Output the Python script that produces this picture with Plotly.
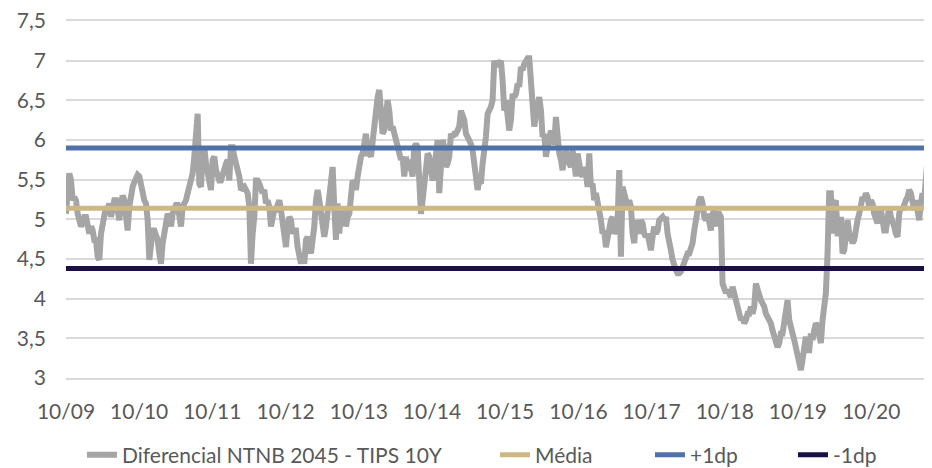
import pandas as pd
import plotly.graph_objects as go

seg_2009 = [5.07, 5.41, 5.58, 5.49, 5.24, 5.28, 5.24, 5.07, 4.99, 4.91, 4.95, 5.03, 5.03, 4.86, 4.82, 4.91, 4.86,
            4.74, 4.74, 4.53, 4.49, 4.82, 4.91, 5.03, 5.16, 5.12, 5.20, 5.03, 5.20, 5.24, 5.24, 5.03, 4.99, 5.20,
            5.30, 5.24, 5.07, 4.86, 5.16, 5.33, 5.41, 5.47, 5.51, 5.56, 5.54, 5.41, 5.33, 5.24, 5.20, 4.99]
seg_2010 = [4.49, 4.82, 4.86, 4.86, 4.82, 4.74, 4.57, 4.44, 4.70, 4.82, 4.99, 5.07, 5.03, 4.91, 5.07, 5.16, 5.18,
            5.18, 5.07, 4.91, 5.16, 5.20, 5.24, 5.33, 5.41, 5.54, 5.58, 5.79, 6.00, 6.33, 5.45, 5.41, 5.83, 5.91,
            5.70, 5.58, 5.41, 5.37, 5.75, 5.79, 5.62, 5.54, 5.49, 5.49, 5.58, 5.66, 5.70, 5.75, 5.49, 5.91, 5.91,
            5.79, 5.70, 5.66, 5.54, 5.37, 5.41, 5.41, 5.37, 5.33, 5.16, 4.44, 4.82, 5.03, 5.49, 5.49]
seg_2012 = [5.45, 5.41, 5.33, 5.37, 5.20, 5.24, 5.16, 4.91, 5.03, 5.12, 5.12, 5.20, 5.24, 5.12, 4.99, 4.78, 4.65,
            4.91, 5.03, 4.99, 4.82, 4.86, 4.86, 4.65, 4.53, 4.44, 4.57, 4.44, 4.74, 4.78, 4.65, 4.57, 4.74, 4.91,
            5.24, 5.37, 5.24, 5.07, 4.99, 4.78, 4.91, 5.07, 5.33, 5.41, 5.66, 5.16, 4.74, 5.20, 4.82, 5.16, 4.91,
            5.16, 4.91, 5.03, 5.07, 5.28, 5.49, 5.45, 5.37, 5.54, 5.75, 5.79, 5.83, 6.00, 6.08, 5.83]
seg_2013 = [5.83, 5.79, 6.00, 6.12, 6.37, 6.54, 6.63, 6.37, 6.08, 6.12, 6.46, 6.50, 6.37, 6.12, 6.17, 6.08, 6.04,
            5.95, 5.83, 5.75, 5.79, 5.54, 5.79, 5.62, 5.75, 5.66, 5.54, 5.91, 5.95, 5.91, 5.49, 5.07, 5.24, 5.41,
            5.54, 5.83, 5.79, 5.66, 5.49, 5.62, 5.95, 6.00, 5.33, 5.83, 6.00, 5.91, 5.66, 5.70, 5.79, 6.08, 6.04,
            6.08, 6.08, 6.12, 6.17, 6.37, 6.33, 6.25, 6.08, 6.04, 6.00, 5.95, 5.87, 5.66, 5.62, 5.37]
seg_2015 = [5.49, 5.45, 5.70, 5.83, 6.04, 6.33, 6.37, 6.42, 6.50, 7.00, 6.92, 7.00, 6.96, 7.00, 6.75, 6.37, 6.50,
            6.29, 6.12, 6.25, 6.58, 6.54, 6.58, 6.71, 6.67, 6.92, 6.88, 6.96, 7.00, 7.03, 7.03, 6.63, 6.37, 6.17,
            6.33, 6.50, 6.54, 6.37, 6.04, 6.08, 5.79, 5.91, 6.00, 6.12, 6.00, 5.95, 6.29, 5.95, 5.83, 5.75, 5.62,
            5.83, 5.87, 5.75, 5.70, 5.66, 5.87, 5.75, 5.54, 5.83, 5.66, 5.58, 5.54, 5.66, 5.58, 5.41]
seg_2016 = [5.83, 5.41, 5.45, 5.24, 5.33, 5.24, 5.07, 4.99, 4.82, 4.86, 4.65, 4.78, 4.91, 4.99, 5.03, 4.82, 4.86,
            4.99, 5.62, 4.53, 5.41, 5.33, 5.24, 5.16, 5.24, 5.16, 4.82, 4.70, 4.99, 4.91, 4.82, 4.99, 4.95, 4.82,
            4.78, 4.82, 4.65, 4.61, 4.78, 4.91, 4.82, 4.86, 4.99, 5.03, 5.03, 4.99, 5.03, 4.82, 4.74, 4.61, 4.49,
            4.40, 4.36, 4.32, 4.32, 4.34, 4.40, 4.44, 4.49, 4.57, 4.57, 4.65, 4.70, 4.86, 4.99, 5.16]
seg_2018 = [5.24, 5.28, 5.20, 5.03, 4.99, 5.07, 4.91, 4.86, 5.07, 5.12, 4.91, 5.07, 5.07, 5.03, 4.19, 4.15, 4.07,
            4.11, 4.07, 4.02, 4.15, 4.07, 3.98, 3.90, 3.77, 3.73, 3.77, 3.69, 3.73, 3.81, 3.81, 3.90, 3.81, 3.90,
            4.19, 4.11, 4.02, 3.98, 3.94, 3.90, 3.81, 3.77, 3.73, 3.69, 3.60, 3.52, 3.44, 3.39, 3.44, 3.56, 3.56,
            3.73, 3.94, 3.98, 3.73, 3.60, 3.56, 3.48, 3.39, 3.27, 3.18, 3.10, 3.23, 3.44, 3.52, 3.35]
seg_2019 = [3.35, 3.56, 3.48, 3.60, 3.69, 3.65, 3.48, 3.44, 3.73, 3.90, 4.07, 4.57, 5.33, 5.33, 4.82, 5.20, 5.24,
            4.82, 4.82, 5.03, 4.57, 4.61, 4.91, 4.99, 4.82, 4.74, 4.70, 4.74, 4.91, 4.99, 5.07, 5.16, 5.28, 5.24,
            5.33, 5.28, 5.16, 5.24, 5.20, 5.07, 5.03, 4.95, 5.07, 5.12, 4.99, 4.86, 4.86, 5.03, 5.16, 5.03, 4.99,
            4.91, 4.82, 4.78, 5.07, 5.16, 5.12, 5.20, 5.24, 5.28, 5.37, 5.33, 5.24, 5.12, 5.24, 5.07, 4.99, 5.20,
            5.33, 5.24, 5.49, 5.70, 6.04]

spread = (seg_2009 + seg_2010 + seg_2012 + seg_2013 + seg_2015
          + seg_2016 + seg_2018 + seg_2019)
first_date = "2009-10-01"
last_date = "2021-07-17"
dates = pd.date_range(first_date, last_date, periods=len(spread))

media = 5.14
plus_1dp = 5.90
minus_1dp = 4.38

y_ticks = [3, 3.5, 4, 4.5, 5, 5.5, 6, 6.5, 7, 7.5]
tick_dates = ["2009-10-01", "2010-10-01", "2011-10-01", "2012-10-01", "2013-10-01", "2014-10-01",
              "2015-10-01", "2016-10-01", "2017-10-01", "2018-10-01", "2019-10-01", "2020-10-01"]
tick_labels = ["10/09", "10/10", "10/11", "10/12", "10/13", "10/14",
               "10/15", "10/16", "10/17", "10/18", "10/19", "10/20"]

FONT = "Lato"
TXT = "#595959"
GRID = "#d9d9d9"

fig = go.Figure()
fig.add_trace(go.Scatter(x=dates, y=spread, mode="lines", name="Diferencial NTNB 2045 - TIPS 10Y",
                         line=dict(color="#a5a5a5", width=6), legend="legend", showlegend=True))
fig.add_trace(go.Scatter(x=dates, y=[media] * len(dates), mode="lines", name="Média",
                         line=dict(color="#cbb882", width=5), legend="legend2", showlegend=True))
fig.add_trace(go.Scatter(x=dates, y=[plus_1dp] * len(dates), mode="lines", name="+1dp",
                         line=dict(color="#4f72aa", width=5), legend="legend3", showlegend=True))
fig.add_trace(go.Scatter(x=dates, y=[minus_1dp] * len(dates), mode="lines", name="-1dp",
                         line=dict(color="#1b1046", width=5), legend="legend4", showlegend=True))

leg_common = dict(orientation="h", yanchor="middle", y=-0.2157, xanchor="left",
                  font=dict(family=FONT, size=21, color=TXT), bgcolor="rgba(0,0,0,0)")
fig.update_layout(
    width=924, height=460,
    showlegend=True,
    margin=dict(l=58, r=2, t=13, b=90, autoexpand=False),
    paper_bgcolor="white", plot_bgcolor="white",
    separators=",.",
    font=dict(family=FONT, size=21, color=TXT),
    legend=dict(x=0.0185, **leg_common),
    legend2=dict(x=0.4965, **leg_common),
    legend3=dict(x=0.6759, **leg_common),
    legend4=dict(x=0.8414, **leg_common),
    xaxis=dict(type="date", range=[first_date, "2021-07-21"], tickmode="array",
               tickvals=tick_dates, ticktext=tick_labels, showgrid=False, zeroline=False,
               showline=True, linecolor=GRID, linewidth=1.5, mirror=True, layer="below traces",
               ticks="", ticklabelstandoff=14, automargin=False,
               ticklabeloverflow="allow", tickfont=dict(family=FONT, size=21, color=TXT)),
    yaxis=dict(range=[3, 7.5], tickmode="array", tickvals=y_ticks, showgrid=True, gridcolor=GRID,
               gridwidth=1.5, zeroline=False, showline=False, ticks="", ticklabelstandoff=19,
               automargin=False, ticklabeloverflow="allow",
               tickfont=dict(family=FONT, size=21, color=TXT)),
)

fig.write_html("out.html")
